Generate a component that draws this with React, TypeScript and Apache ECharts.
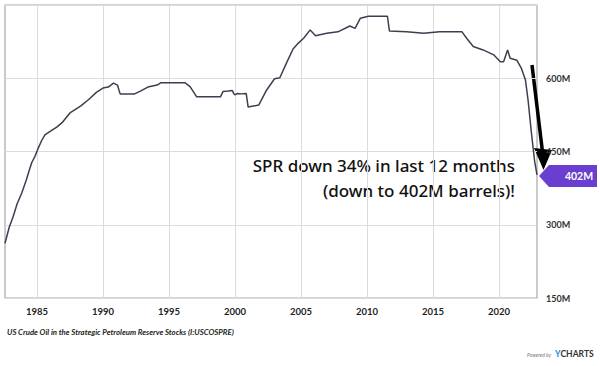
import React, { useEffect, useRef } from "react";
import * as echarts from "echarts";

const years = [
  1982.58, 1982.9, 1983.2, 1983.5, 1983.85, 1984.2, 1984.4, 1984.6, 1984.85, 1985.1,
  1985.35, 1985.6, 1986.0, 1986.5, 1986.9, 1987.5, 1988.3, 1988.9, 1989.5, 1990.0,
  1990.4, 1990.8, 1991.1, 1991.3, 1992.4, 1992.8, 1993.4, 1994.1, 1994.4, 1996.2,
  1996.6, 1997.1, 1998.9, 1999.1, 1999.5, 1999.8, 1999.9, 2000.0, 2000.2, 2000.5,
  2000.85, 2001.0, 2001.8, 2002.4, 2003.0, 2003.4, 2003.9, 2004.4, 2004.8, 2005.2,
  2005.7, 2006.1, 2006.95, 2007.8, 2008.7, 2009.1, 2009.5, 2010.1, 2011.55, 2011.7,
  2013.0, 2014.3, 2015.5, 2017.2, 2017.55, 2018.05, 2018.8, 2019.6, 2020.1, 2020.35,
  2020.65, 2020.85, 2021.35, 2021.7, 2022.0, 2022.2, 2022.45, 2022.7, 2022.88,
];
const values = [
  262, 295, 317, 343, 365, 392, 410, 427, 440, 457,
  472, 484, 491, 500, 509, 529, 543, 556, 571, 580,
  582, 590, 586, 568, 568, 573, 582, 586, 591, 591,
  583, 562, 562, 573, 574, 575, 569, 566, 569, 568,
  569, 541, 545, 576, 599, 601, 631, 660, 672, 682,
  699, 687, 692, 695, 707, 702, 723, 727, 727, 697,
  695, 692, 695, 695, 682, 665, 658, 648, 634, 634,
  658, 641, 637, 620, 597, 556, 490, 430, 402,
];
const xTickYears = [1985, 1990, 1995, 2000, 2005, 2010, 2015, 2020];
const yTicks = { min: 150, max: 750, interval: 150 };
const lastLabel = "402M";
const annotation = ["SPR down 34% in last 12 months", "(down to 402M barrels)!"];
const footnote = "US Crude Oil in the Strategic Petroleum Reserve Stocks (I:USCOSPRE)";

export default function App() {
  const ref = useRef<HTMLDivElement>(null);
  useEffect(() => {
    if (!ref.current) return;
    const chart = echarts.init(ref.current, undefined, { renderer: "svg" });
    const data = years.map((y, i) => [y, values[i]]);
    const last = data[data.length - 1];
    const gridColor = "#dcdcdc";
    chart.setOption({
      animation: false,
      backgroundColor: "#ffffff",
      grid: {
        left: 5,
        top: 5,
        right: 63,
        bottom: 68,
        show: true,
        borderColor: "#a8a8a8",
        borderWidth: 1.2,
        backgroundColor: "transparent",
      },
      xAxis: {
        type: "value",
        min: years[0],
        max: years[years.length - 1],
        axisLine: { show: false },
        axisTick: { show: false, customValues: xTickYears },
        axisLabel: {
          customValues: xTickYears,
          margin: 8,
          color: "#222",
          fontFamily: "Lato",
          fontWeight: "bold",
          fontSize: 9.5,
          formatter: (v: number) => String(Math.round(v)),
        },
        splitLine: { show: false },
      },
      yAxis: {
        type: "value",
        position: "right",
        min: yTicks.min,
        max: yTicks.max,
        interval: yTicks.interval,
        axisLine: { show: false },
        axisTick: { show: false },
        axisLabel: {
          showMaxLabel: false,
          margin: 9,
          color: "#333",
          fontFamily: "Lato",
          fontWeight: "bold",
          fontSize: 9,
          formatter: (v: number) => `${v}M`,
        },
        splitLine: { show: true, lineStyle: { color: gridColor, width: 1 } },
      },
      series: [
        {
          type: "line",
          data,
          showSymbol: false,
          clip: false,
          lineStyle: { color: "#3e3e50", width: 1.5 },
          markLine: {
            silent: true,
            symbol: "none",
            label: { show: false },
            lineStyle: { color: gridColor, width: 1, type: "solid" },
            data: xTickYears.map((y) => ({ xAxis: y })),
            z: 0,
          },
          markPoint: {
            symbol: "path://M0,11 L10,0 L58,0 L58,22 L10,22 Z",
            symbolSize: [58, 22],
            symbolOffset: [31, 1],
            itemStyle: { color: "#6a3fcf" },
            label: {
              show: true,
              formatter: lastLabel,
              color: "#fff",
              fontFamily: "Lato",
              fontWeight: "bold",
              fontSize: 10.5,
              offset: [11, 0],
            },
            data: [{ coord: last, value: last[1] }],
          },
        },
      ],
      graphic: [
        {
          type: "text",
          x: 515,
          y: 153,
          style: {
            text: annotation.join("\n"),
            align: "right",
            verticalAlign: "top",
            fill: "#111",
            fontFamily: "Noto Sans",
            fontSize: 17,
            fontWeight: 500,
            lineHeight: 25,
          },
        },
        {
          type: "line",
          shape: { x1: 532, y1: 65, x2: 542.5, y2: 152 },
          style: { stroke: "#000", lineWidth: 3.5 },
        },
        {
          type: "polygon",
          shape: { points: [[534, 148], [552, 150], [543.5, 170]] },
          style: { fill: "#000" },
        },
        {
          type: "text",
          left: 7,
          top: 328,
          style: {
            text: footnote,
            fill: "#222",
            fontFamily: "Lato",
            fontSize: 7.8,
            fontWeight: "bold",
            fontStyle: "italic",
          },
        },
        {
          type: "text",
          left: 527,
          top: 352,
          style: {
            text: "Powered by",
            fill: "#777",
            fontFamily: "Lato",
            fontSize: 5,
            fontStyle: "italic",
          },
        },
        {
          type: "text",
          left: 555,
          top: 349,
          style: {
            rich: {
              y: { fill: "#2d7fd6", fontFamily: "Lato", fontWeight: "bold", fontSize: 8.5 },
              r: { fill: "#333", fontFamily: "Lato", fontWeight: "bold", fontSize: 8.5 },
            },
            text: "{y|Y}{r|CHARTS}",
          },
        },
      ],
    });
    return () => chart.dispose();
  }, []);
  return (
    <div
      ref={ref}
      style={{ position: "fixed", left: 0, top: 0, width: 600, height: 366 }}
    />
  );
}
